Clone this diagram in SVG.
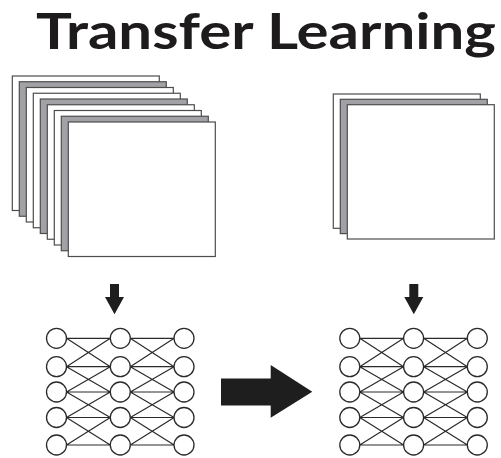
<svg xmlns="http://www.w3.org/2000/svg" xmlns:xlink="http://www.w3.org/1999/xlink" width="501" height="458" viewBox="0 0 501 458">
  <style>
    .title { font-family: Lato, "Open Sans", "DejaVu Sans", sans-serif; font-weight: 700; font-size: 50px; fill: #1d1b1c; }
    .sheet { stroke: #4d4d4d; stroke-width: 1.2; }
    .white { fill: #ffffff; }
    .grey { fill: #a2a2a6; }
    .neuron { fill: #ffffff; stroke: #2a2a2a; stroke-width: 1.3; }
    .link { fill: none; stroke: #2a2a2a; stroke-width: 1.2; }
    .arrow { fill: #1e1e1e; }
  </style>
  <defs>
    <!-- links between two neighbouring layers: each unit feeds the unit beside it and the ones above and below -->
    <path id="links" class="link" d="M66.5 338.3H110.3M66.5 366.7H110.3M66.5 392H110.3M66.5 417.5H110.3M66.5 445H110.3
      M66.5 338.3L110.3 366.7M66.5 366.7L110.3 338.3
      M66.5 366.7L110.3 392M66.5 392L110.3 366.7
      M66.5 392L110.3 417.5M66.5 417.5L110.3 392
      M66.5 417.5L110.3 445M66.5 445L110.3 417.5"/>
    <g id="layer">
      <circle class="neuron" cx="56.5" cy="338.3" r="10"/>
      <circle class="neuron" cx="56.5" cy="366.7" r="10"/>
      <circle class="neuron" cx="56.5" cy="392" r="10"/>
      <circle class="neuron" cx="56.5" cy="417.5" r="10"/>
      <circle class="neuron" cx="56.5" cy="445" r="10"/>
    </g>
    <g id="net">
      <use xlink:href="#links"/>
      <use xlink:href="#links" transform="translate(63.8 0)"/>
      <use xlink:href="#layer"/>
      <use xlink:href="#layer" transform="translate(63.8 0)"/>
      <use xlink:href="#layer" transform="translate(127.5 0)"/>
    </g>
  </defs>

  <g id="title">
    <text class="title" x="36" y="49" textLength="460" lengthAdjust="spacingAndGlyphs">Transfer Learning</text>
  </g>

  <!-- large source dataset: a deep stack of images -->
  <g id="source-data">
    <rect class="sheet white" x="12.3" y="76" width="147" height="134.5"/>
    <rect class="sheet grey" x="19.3" y="81.75" width="147" height="134.5"/>
    <rect class="sheet white" x="26.3" y="87.5" width="147" height="134.5"/>
    <rect class="sheet white" x="33.3" y="93.25" width="147" height="134.5"/>
    <rect class="sheet grey" x="40.3" y="99" width="147" height="134.5"/>
    <rect class="sheet white" x="47.3" y="104.75" width="147" height="134.5"/>
    <rect class="sheet white" x="54.3" y="110.5" width="147" height="134.5"/>
    <rect class="sheet grey" x="61.3" y="116.25" width="147" height="134.5"/>
    <rect class="sheet white" x="68.3" y="122" width="147" height="134.5"/>
  </g>

  <!-- small target dataset -->
  <g id="target-data">
    <rect class="sheet white" x="333.3" y="94" width="147" height="134.3"/>
    <rect class="sheet grey" x="340.3" y="99.3" width="147" height="134.3"/>
    <rect class="sheet white" x="347.3" y="104.7" width="147" height="134.3"/>
  </g>

  <g id="source-network">
    <use xlink:href="#net"/>
  </g>

  <g id="target-network">
    <use xlink:href="#net" transform="translate(293.3 0)"/>
  </g>

  <g id="connectors">
    <polygon class="arrow" points="110,284 119,284 119,297 124,297 114.5,314.3 105,297 110,297"/>
    <polygon class="arrow" points="409.3,284 418.3,284 418.3,297 423.3,297 413.8,314.3 404.3,297 409.3,297"/>
    <polygon class="arrow" points="221,378.5 270.7,378.5 270.7,365 312.3,391.7 270.7,417.7 270.7,405.5 221,405.5"/>
  </g>
</svg>
